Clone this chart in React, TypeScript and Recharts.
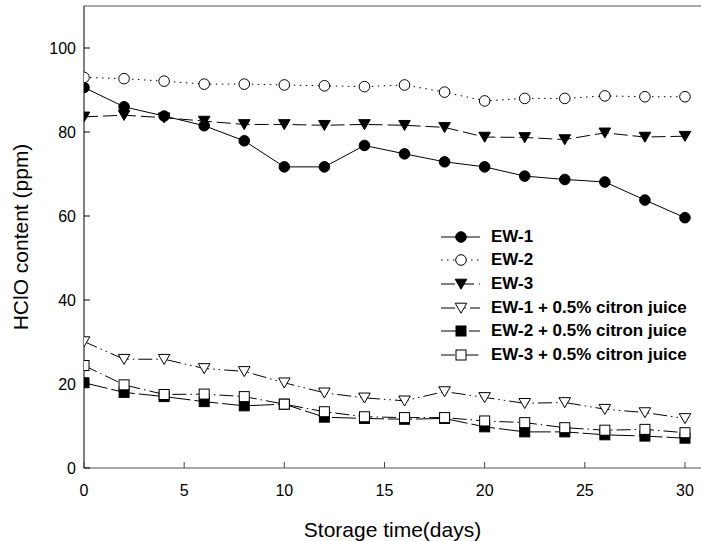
import { LineChart, Line, XAxis, YAxis, ReferenceLine, Legend } from 'recharts';

const days = [0, 2, 4, 6, 8, 10, 12, 14, 16, 18, 20, 22, 24, 26, 28, 30];
const ew1 = [90.6, 86.0, 83.8, 81.5, 77.9, 71.7, 71.7, 76.8, 74.8, 72.9, 71.7, 69.5, 68.7, 68.1, 63.8, 59.6];
const ew2 = [93.0, 92.7, 92.1, 91.4, 91.4, 91.2, 91.0, 90.8, 91.2, 89.5, 87.4, 88.0, 88.0, 88.6, 88.4, 88.4];
const ew3 = [83.6, 84.0, 83.4, 82.6, 81.8, 81.8, 81.6, 81.8, 81.6, 81.1, 78.8, 78.7, 78.2, 79.8, 78.8, 79.0];
const ew1Citron = [30.1, 25.9, 25.9, 23.7, 23.0, 20.3, 17.9, 16.7, 16.0, 18.2, 16.8, 15.4, 15.6, 14.0, 13.2, 11.8];
const ew2Citron = [20.3, 18.0, 17.0, 15.8, 14.8, 15.2, 12.1, 11.8, 11.6, 11.8, 9.8, 8.6, 8.6, 7.9, 7.6, 7.1];
const ew3Citron = [24.4, 19.8, 17.5, 17.6, 17.0, 15.2, 13.4, 12.2, 12.0, 12.0, 11.2, 10.8, 9.6, 9.0, 9.2, 8.4];

const xTicks = [0, 5, 10, 15, 20, 25, 30];
const yTicks = [0, 20, 40, 60, 80, 100];

const PLOT_LEFT = 84;
const PLOT_BOTTOM = 468;
const FONT = '"Liberation Sans", Arial, sans-serif';

type Shape = 'circle' | 'triangle' | 'square';

const series = [
  { key: 'ew1', name: 'EW-1', values: ew1, shape: 'circle' as Shape, filled: true, dash: undefined },
  { key: 'ew2', name: 'EW-2', values: ew2, shape: 'circle' as Shape, filled: false, dash: '1.5 4.5' },
  { key: 'ew3', name: 'EW-3', values: ew3, shape: 'triangle' as Shape, filled: true, dash: '14 5' },
  { key: 'ew1c', name: 'EW-1 + 0.5% citron juice', values: ew1Citron, shape: 'triangle' as Shape, filled: false, dash: '14 4 1.5 4 1.5 4' },
  { key: 'ew2c', name: 'EW-2 + 0.5% citron juice', values: ew2Citron, shape: 'square' as Shape, filled: true, dash: '24 4' },
  { key: 'ew3c', name: 'EW-3 + 0.5% citron juice', values: ew3Citron, shape: 'square' as Shape, filled: false, dash: '14 4 1.5 4' },
];

const data = days.map((d, i) => {
  const row: Record<string, number> = { day: d };
  series.forEach((s) => { row[s.key] = s.values[i]; });
  return row;
});

function Marker({ cx, cy, shape, filled }: { cx: number; cy: number; shape: Shape; filled: boolean }) {
  const fill = filled ? '#000' : '#fff';
  if (shape === 'circle') return <circle cx={cx} cy={cy} r={5.3} fill={fill} stroke="#000" strokeWidth={1} />;
  if (shape === 'square') return <rect x={cx - 5} y={cy - 5} width={10} height={10} fill={fill} stroke="#000" strokeWidth={1} />;
  return (
    <polygon
      points={`${cx - 5.8},${cy - 4.8} ${cx + 5.8},${cy - 4.8} ${cx},${cy + 5.2}`}
      fill={fill}
      stroke="#000"
      strokeWidth={1}
    />
  );
}

const makeDot = (shape: Shape, filled: boolean) => (props: any) => {
  const { cx, cy, index } = props;
  if (cx == null || cy == null) return <g key={index} />;
  return <Marker key={index} cx={cx} cy={cy} shape={shape} filled={filled} />;
};

function YTick(props: any) {
  const { y, payload } = props;
  return (
    <g>
      <line x1={PLOT_LEFT} x2={PLOT_LEFT + 6} y1={y} y2={y} stroke="#000" />
      <text x={PLOT_LEFT - 8} y={y + 5.5} textAnchor="end" fontSize={16} fontFamily={FONT} fill="#000">
        {payload.value}
      </text>
    </g>
  );
}

function XTick(props: any) {
  const { x, payload } = props;
  return (
    <g>
      <line x1={x} x2={x} y1={PLOT_BOTTOM} y2={PLOT_BOTTOM - 6} stroke="#444" />
      <text x={x} y={PLOT_BOTTOM + 28} textAnchor="middle" fontSize={16} fontFamily={FONT} fill="#000">
        {payload.value}
      </text>
    </g>
  );
}

function LegendContent() {
  return (
    <div style={{ fontFamily: FONT }}>
      {series.map((s) => (
        <div key={s.key} style={{ display: 'flex', alignItems: 'center', height: 23.6 }}>
          <svg width={40} height={24} style={{ display: 'block' }}>
            <line x1={0} x2={39} y1={12} y2={12} stroke="#000" strokeWidth={1} strokeDasharray={s.dash} />
            <Marker cx={20} cy={12} shape={s.shape} filled={s.filled} />
          </svg>
          <span style={{ marginLeft: 10, fontSize: 17, fontWeight: 'bold', color: '#000', whiteSpace: 'nowrap' }}>
            {s.name}
          </span>
        </div>
      ))}
    </div>
  );
}

export default function App() {
  return (
    <div style={{ position: 'absolute', left: 0, top: 0, width: 701, height: 541, background: '#fff' }}>
      <LineChart width={701} height={541} data={data} margin={{ top: 6, right: 0, bottom: 0, left: 0 }}>
        <XAxis
          dataKey="day"
          type="number"
          domain={[0, 30.8]}
          ticks={xTicks}
          allowDataOverflow
          height={73}
          tick={<XTick />}
          tickLine={false}
          axisLine={{ stroke: '#555', strokeWidth: 1.2 }}
          label={{ value: 'Storage time(days)', position: 'insideBottom', offset: 4, fontSize: 21, fontFamily: FONT, fill: '#000' }}
        />
        <YAxis
          type="number"
          domain={[0, 110]}
          ticks={yTicks}
          width={84}
          tick={<YTick />}
          tickLine={false}
          axisLine={{ stroke: '#000', strokeWidth: 1 }}
          label={{
            value: 'HClO content (ppm)',
            angle: -90,
            position: 'insideLeft',
            offset: 21,
            fontSize: 21,
            fontFamily: FONT,
            fill: '#000',
            style: { textAnchor: 'middle' },
          }}
        />
        <ReferenceLine y={110} stroke="#555" strokeWidth={1.2} />
        {series.map((s) => (
          <Line
            key={s.key}
            dataKey={s.key}
            name={s.name}
            type="linear"
            stroke="#000"
            strokeWidth={1}
            strokeDasharray={s.dash}
            dot={makeDot(s.shape, s.filled)}
            activeDot={false}
            isAnimationActive={false}
          />
        ))}
        <Legend
          layout="vertical"
          align="center"
          verticalAlign="middle"
          wrapperStyle={{ left: 441, top: 225, width: 260 }}
          content={<LegendContent />}
        />
      </LineChart>
    </div>
  );
}
